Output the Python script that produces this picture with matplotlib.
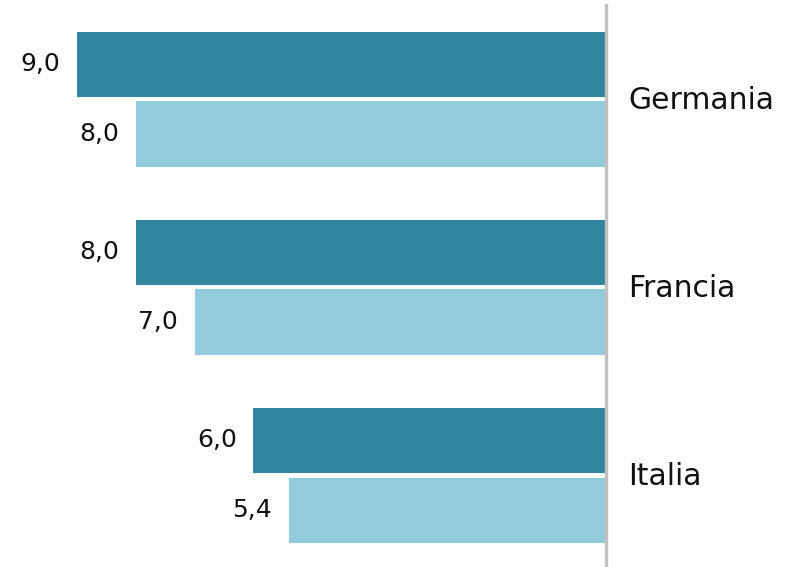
import numpy as np
import matplotlib
matplotlib.use("Agg")
import matplotlib.pyplot as plt

plt.rcParams['font.family'] = ['DejaVu Sans']

# dati
paesi = ['Germania', 'Francia', 'Italia']
serie_scura = [9.0, 8.0, 6.0]
serie_chiara = [8.0, 7.0, 5.4]

col_scuro = '#31859c'
col_chiaro = '#93cddd'

W, H = 797, 567
fig = plt.figure(figsize=(W / 100, H / 100), dpi=100)
# asse: da x=0 a x=606 px, da y=5 a y=567 px
ax = fig.add_axes([0, 0, 606 / W, 562 / H])

y = np.arange(len(paesi))
h = 0.346
off = 0.185
b1 = ax.barh(y - off, serie_scura, height=h, color=col_scuro)
b2 = ax.barh(y + off, serie_chiara, height=h, color=col_chiaro)

ax.set_xlim(606 / 58.75, 0)
ax.set_ylim(2.488, -0.501)

for bars, vals in [(b1, serie_scura), (b2, serie_chiara)]:
    for rect, v in zip(bars, vals):
        ax.annotate(f'{v:.1f}'.replace('.', ','),
                    (rect.get_width(), rect.get_y() + rect.get_height() / 2),
                    xytext=(-12, 0), textcoords='offset points',
                    ha='right', va='center', fontsize=18, color='#111111')

for i, p in enumerate(paesi):
    ax.annotate(p, (0, i), xytext=(16, -1), textcoords='offset points',
                ha='left', va='center', fontsize=21.5, color='#111111',
                annotation_clip=False)

for s in ['left', 'top', 'bottom']:
    ax.spines[s].set_visible(False)
ax.spines['right'].set_color('#c0c0c0')
ax.spines['right'].set_linewidth(2.4)
ax.set_xticks([])
ax.set_yticks([])

fig.savefig('out.png', dpi=100)
